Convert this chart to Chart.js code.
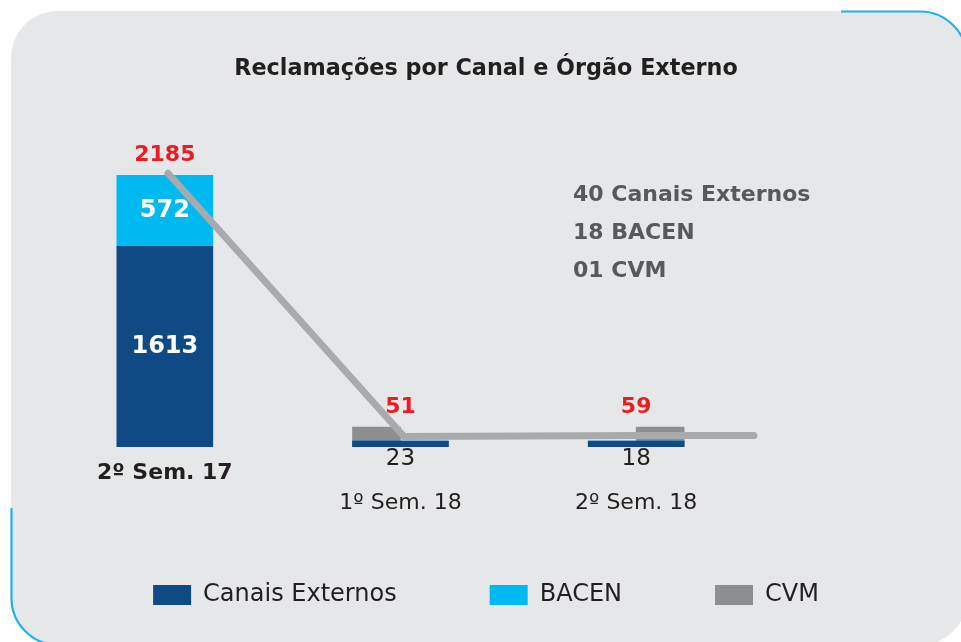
<!DOCTYPE html>
<html>
<head>
<meta charset="utf-8">
<script src="https://cdn.jsdelivr.net/npm/chart.js@4/dist/chart.umd.min.js"></script>
<style>
html,body{margin:0;padding:0;background:#ffffff;overflow:hidden}
#wrap{position:relative;width:961px;height:642px}
#wrap svg,#wrap canvas{position:absolute;left:0;top:0}
</style>
</head>
<body>
<div id="wrap">
<svg width="961" height="642" viewBox="0 0 961 642">
  <rect x="11" y="11" width="956" height="634" rx="47" ry="47" fill="#e6e7e8"/>
  <path d="M841 11.5 H920 A47 47 0 0 1 967 58.5" fill="none" stroke="#1fb2e8" stroke-width="2.2"/>
  <path d="M11.5 508 V598 A47 47 0 0 0 58.5 645" fill="none" stroke="#1fb2e8" stroke-width="2.2"/>
</svg>
<canvas id="c" width="961" height="642"></canvas>
</div>
<script>
// ---- data ----
const categories = ['2º Sem. 17', '1º Sem. 18', '2º Sem. 18'];
const canaisExternos = [1613, 23, 18];
const bacen = [572, 0, 0];
const cvm = [null, 28, 41];
const totals = [2185, 51, 59];
const notes = ['40 Canais Externos', '18 BACEN', '01 CVM'];

const FONT = "'DejaVu Sans', sans-serif";
const COL = {
  dark: '#0f4a84', cyan: '#00b9f1', cvm: '#8d8e91', line: '#a8aaad',
  text: '#231f20', red: '#ed1c24', note: '#58595b'
};

// CVM bars sit in the left half slot for the 1st semester and the right half slot for the 2nd
const cvmLeft = cvm.map((v, i) => (i === 1 ? v : null));
const cvmRight = cvm.map((v, i) => (i === 2 ? v : null));

// total line (drawn on its own axes), with a tail running to the right edge of the plot
const LINE_X_MIN = -0.5127, LINE_X_MAX = 2.4831;
const lineData = totals.map((v, i) => ({ x: i, y: v }));
lineData.push({ x: LINE_X_MAX, y: totals[totals.length - 1] });

const BAR_W = 96;

const labelPlugin = {
  id: 'valueLabels',
  afterDatasetsDraw(chart) {
    const ctx = chart.ctx;
    ctx.save();
    ctx.textAlign = 'center';
    ctx.textBaseline = 'middle';
    categories.forEach((cat, j) => {
      let top = Infinity, cx = null;
      chart.data.datasets.forEach((ds, i) => {
        if (ds.type === 'line') return;
        const v = ds.data[j];
        if (v === null || v === undefined || v === 0) return;
        const el = chart.getDatasetMeta(i).data[j];
        if (!el) return;
        top = Math.min(top, el.y);
        if (ds.showValue) {
          cx = el.x;
          const h = Math.abs(el.base - el.y);
          if (h > 30) {
            ctx.fillStyle = '#ffffff';
            ctx.font = "bold 24px " + FONT;
            ctx.fillText(String(v), el.x, (el.y + el.base) / 2);
          } else {
            ctx.fillStyle = COL.text;
            ctx.font = "23px " + FONT;
            ctx.fillText(String(v), el.x, el.base + 12);
          }
        }
      });
      if (cx !== null) {
        ctx.fillStyle = COL.red;
        ctx.font = "bold 22px " + FONT;
        ctx.fillText(String(totals[j]), cx, top - 20);
      }
    });
    // side notes
    ctx.textAlign = 'left';
    ctx.fillStyle = COL.note;
    ctx.font = "bold 22px " + FONT;
    notes.forEach((t, k) => ctx.fillText(t, 573, 195 + k * 38));
    ctx.restore();
  }
};

new Chart(document.getElementById('c'), {
  data: {
    labels: categories,
    datasets: [
      {
        type: 'line', label: 'Total', data: lineData,
        xAxisID: 'xl', yAxisID: 'yl',
        borderColor: COL.line, borderWidth: 7, pointRadius: 0,
        borderCapStyle: 'round', tension: 0, clip: false, order: 0
      },
      {
        type: 'bar', label: 'Canais Externos', data: canaisExternos, showValue: true,
        xAxisID: 'x', yAxisID: 'y', backgroundColor: COL.dark, grouped: false,
        minBarLength: 6, barThickness: BAR_W, order: 1
      },
      {
        type: 'bar', label: 'BACEN', data: bacen, showValue: true,
        xAxisID: 'x', yAxisID: 'y', backgroundColor: COL.cyan, grouped: false,
        barThickness: BAR_W, order: 1
      },
      {
        type: 'bar', label: 'CVM', data: cvmLeft,
        xAxisID: 'x2', yAxisID: 'y', backgroundColor: COL.cvm,
        minBarLength: 20, barThickness: BAR_W / 2, order: 2
      },
      {
        type: 'bar', label: 'CVM ', data: cvmRight,
        xAxisID: 'x2', yAxisID: 'y', backgroundColor: COL.cvm,
        minBarLength: 20, barThickness: BAR_W / 2, order: 2
      }
    ]
  },
  options: {
    responsive: false,
    animation: false,
    devicePixelRatio: 1,
    layout: { padding: { left: 11, right: 0, top: 0, bottom: 25 } },
    scales: {
      x: {
        type: 'category', stacked: true, offset: true,
        grid: { display: false, drawTicks: false }, border: { display: false },
        afterFit: (s) => { s.height = 43; },
        ticks: {
          mirror: true, padding: -41, autoSkip: false, maxRotation: 0, color: COL.text,
          callback: (v, i) => (canaisExternos[i] + bacen[i] < 500 ? ['', categories[i]] : categories[i]),
          font: (c) => ({ family: FONT, size: 22, weight: c.index === 0 ? 'bold' : 'normal', lineHeight: 30 / 22 })
        }
      },
      x2: { type: 'category', display: false, stacked: false, offset: true },
      xl: { type: 'linear', display: false, min: LINE_X_MIN, max: LINE_X_MAX },
      y: {
        type: 'linear', position: 'left', stacked: true, min: 0, max: 2768.2,
        grid: { display: false, drawTicks: false }, border: { display: false },
        ticks: { display: false },
        afterFit: (s) => { s.width = 36; }
      },
      yl: {
        type: 'linear', position: 'right', min: -34, max: 2756.7,
        grid: { display: false, drawTicks: false }, border: { display: false },
        ticks: { display: false },
        afterFit: (s) => { s.width = 207; }
      }
    },
    plugins: {
      tooltip: { enabled: false },
      title: {
        display: true, text: 'Reclamações por Canal e Órgão Externo', color: COL.text,
        font: { family: FONT, size: 22.3, weight: 'bold', lineHeight: 1.2 },
        padding: { top: 56, bottom: 20 }
      },
      legend: {
        position: 'bottom',
        labels: {
          boxWidth: 38, boxHeight: 20, padding: 93, color: COL.text,
          font: { family: FONT, size: 24 },
          filter: (item) => item.datasetIndex >= 1 && item.datasetIndex <= 3
        }
      }
    }
  },
  plugins: [labelPlugin]
});
</script>
</body>
</html>
